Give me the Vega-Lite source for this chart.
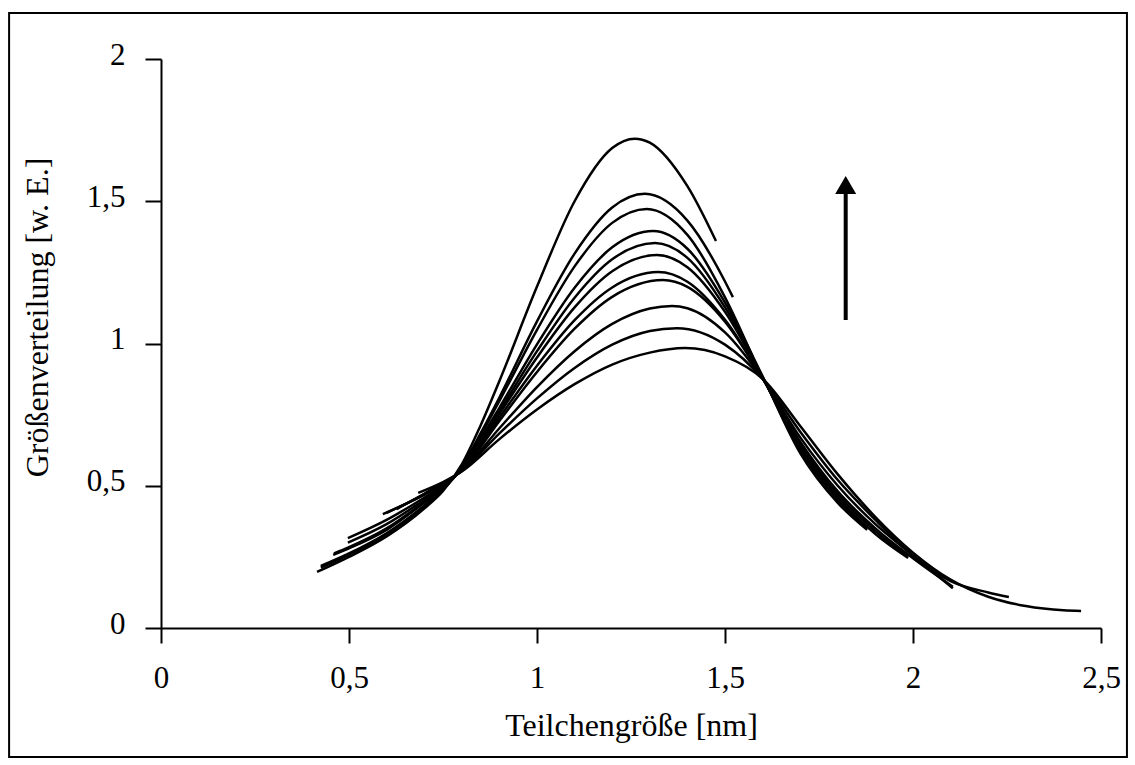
{
  "$schema": "https://vega.github.io/schema/vega-lite/v6.json",
  "width": 940,
  "height": 569,
  "autosize": "none",
  "padding": {"left": 161, "top": 59, "right": 34, "bottom": 137},
  "background": "white",
  "config": {
    "view": {"stroke": null},
    "font": "Liberation Serif",
    "axis": {
      "grid": false,
      "domainColor": "black",
      "domainWidth": 2,
      "tickColor": "black",
      "tickWidth": 2,
      "tickSize": 15,
      "labelColor": "black",
      "labelFont": "Liberation Serif",
      "labelFontSize": 31,
      "labelPadding": 20,
      "titleColor": "black",
      "titleFont": "Liberation Serif",
      "titleFontSize": 32,
      "titleFontWeight": "normal"
    }
  },
  "datasets": {
    "frame": [{"x1": -0.404, "x2": 2.569, "y1": -0.453, "y2": 2.162}],
    "arrow": [{"x": 1.821, "y1": 1.083, "y2": 1.535, "tip": 1.557}],
    "curves": [
      {"c": 1, "x": 0.415, "y": 0.197}, {"c": 1, "x": 0.5, "y": 0.25}, {"c": 1, "x": 0.6, "y": 0.322}, {"c": 1, "x": 0.7, "y": 0.42}, {"c": 1, "x": 0.75, "y": 0.482}, {"c": 1, "x": 0.8, "y": 0.575}, {"c": 1, "x": 0.85, "y": 0.712}, {"c": 1, "x": 0.9, "y": 0.868}, {"c": 1, "x": 1.0, "y": 1.2}, {"c": 1, "x": 1.1, "y": 1.5}, {"c": 1, "x": 1.2, "y": 1.687}, {"c": 1, "x": 1.26, "y": 1.72}, {"c": 1, "x": 1.3, "y": 1.706}, {"c": 1, "x": 1.4, "y": 1.553}, {"c": 1, "x": 1.476, "y": 1.36},
      {"c": 2, "x": 0.425, "y": 0.218}, {"c": 2, "x": 0.5, "y": 0.262}, {"c": 2, "x": 0.6, "y": 0.333}, {"c": 2, "x": 0.7, "y": 0.43}, {"c": 2, "x": 0.75, "y": 0.487}, {"c": 2, "x": 0.8, "y": 0.568}, {"c": 2, "x": 0.85, "y": 0.684}, {"c": 2, "x": 0.9, "y": 0.81}, {"c": 2, "x": 1.0, "y": 1.078}, {"c": 2, "x": 1.1, "y": 1.316}, {"c": 2, "x": 1.2, "y": 1.478}, {"c": 2, "x": 1.287, "y": 1.526}, {"c": 2, "x": 1.4, "y": 1.432}, {"c": 2, "x": 1.5, "y": 1.218}, {"c": 2, "x": 1.521, "y": 1.163},
      {"c": 3, "x": 0.425, "y": 0.212}, {"c": 3, "x": 0.5, "y": 0.258}, {"c": 3, "x": 0.6, "y": 0.33}, {"c": 3, "x": 0.7, "y": 0.428}, {"c": 3, "x": 0.75, "y": 0.486}, {"c": 3, "x": 0.8, "y": 0.565}, {"c": 3, "x": 0.85, "y": 0.677}, {"c": 3, "x": 0.9, "y": 0.798}, {"c": 3, "x": 1.0, "y": 1.048}, {"c": 3, "x": 1.1, "y": 1.271}, {"c": 3, "x": 1.2, "y": 1.424}, {"c": 3, "x": 1.292, "y": 1.473}, {"c": 3, "x": 1.4, "y": 1.382}, {"c": 3, "x": 1.5, "y": 1.162}, {"c": 3, "x": 1.574, "y": 0.952},
      {"c": 4, "x": 0.458, "y": 0.257}, {"c": 4, "x": 0.5, "y": 0.28}, {"c": 4, "x": 0.6, "y": 0.345}, {"c": 4, "x": 0.7, "y": 0.44}, {"c": 4, "x": 0.75, "y": 0.49}, {"c": 4, "x": 0.8, "y": 0.562}, {"c": 4, "x": 0.85, "y": 0.665}, {"c": 4, "x": 0.9, "y": 0.774}, {"c": 4, "x": 1.0, "y": 0.997}, {"c": 4, "x": 1.1, "y": 1.196}, {"c": 4, "x": 1.2, "y": 1.338}, {"c": 4, "x": 1.309, "y": 1.395}, {"c": 4, "x": 1.4, "y": 1.333}, {"c": 4, "x": 1.5, "y": 1.144}, {"c": 4, "x": 1.6, "y": 0.885}, {"c": 4, "x": 1.7, "y": 0.615}, {"c": 4, "x": 1.8, "y": 0.44}, {"c": 4, "x": 1.878, "y": 0.345},
      {"c": 5, "x": 0.46, "y": 0.262}, {"c": 5, "x": 0.5, "y": 0.284}, {"c": 5, "x": 0.6, "y": 0.35}, {"c": 5, "x": 0.7, "y": 0.443}, {"c": 5, "x": 0.75, "y": 0.492}, {"c": 5, "x": 0.8, "y": 0.56}, {"c": 5, "x": 0.9, "y": 0.763}, {"c": 5, "x": 1.0, "y": 0.973}, {"c": 5, "x": 1.1, "y": 1.161}, {"c": 5, "x": 1.2, "y": 1.296}, {"c": 5, "x": 1.314, "y": 1.353}, {"c": 5, "x": 1.4, "y": 1.301}, {"c": 5, "x": 1.5, "y": 1.127}, {"c": 5, "x": 1.6, "y": 0.882}, {"c": 5, "x": 1.7, "y": 0.625}, {"c": 5, "x": 1.8, "y": 0.45}, {"c": 5, "x": 1.878, "y": 0.35},
      {"c": 6, "x": 0.497, "y": 0.3}, {"c": 6, "x": 0.6, "y": 0.365}, {"c": 6, "x": 0.7, "y": 0.45}, {"c": 6, "x": 0.75, "y": 0.495}, {"c": 6, "x": 0.8, "y": 0.558}, {"c": 6, "x": 0.9, "y": 0.753}, {"c": 6, "x": 1.0, "y": 0.951}, {"c": 6, "x": 1.1, "y": 1.127}, {"c": 6, "x": 1.2, "y": 1.254}, {"c": 6, "x": 1.319, "y": 1.311}, {"c": 6, "x": 1.4, "y": 1.268}, {"c": 6, "x": 1.5, "y": 1.111}, {"c": 6, "x": 1.6, "y": 0.88}, {"c": 6, "x": 1.7, "y": 0.635}, {"c": 6, "x": 1.8, "y": 0.46}, {"c": 6, "x": 1.9, "y": 0.33}, {"c": 6, "x": 1.987, "y": 0.246},
      {"c": 7, "x": 0.497, "y": 0.316}, {"c": 7, "x": 0.6, "y": 0.38}, {"c": 7, "x": 0.7, "y": 0.458}, {"c": 7, "x": 0.75, "y": 0.5}, {"c": 7, "x": 0.8, "y": 0.557}, {"c": 7, "x": 0.9, "y": 0.74}, {"c": 7, "x": 1.0, "y": 0.922}, {"c": 7, "x": 1.1, "y": 1.082}, {"c": 7, "x": 1.2, "y": 1.197}, {"c": 7, "x": 1.322, "y": 1.251}, {"c": 7, "x": 1.4, "y": 1.217}, {"c": 7, "x": 1.5, "y": 1.083}, {"c": 7, "x": 1.6, "y": 0.878}, {"c": 7, "x": 1.7, "y": 0.645}, {"c": 7, "x": 1.8, "y": 0.47}, {"c": 7, "x": 1.9, "y": 0.34}, {"c": 7, "x": 1.987, "y": 0.25},
      {"c": 8, "x": 0.59, "y": 0.4}, {"c": 8, "x": 0.7, "y": 0.468}, {"c": 8, "x": 0.75, "y": 0.505}, {"c": 8, "x": 0.8, "y": 0.555}, {"c": 8, "x": 0.9, "y": 0.728}, {"c": 8, "x": 1.0, "y": 0.9}, {"c": 8, "x": 1.1, "y": 1.052}, {"c": 8, "x": 1.2, "y": 1.164}, {"c": 8, "x": 1.335, "y": 1.223}, {"c": 8, "x": 1.4, "y": 1.199}, {"c": 8, "x": 1.5, "y": 1.077}, {"c": 8, "x": 1.6, "y": 0.878}, {"c": 8, "x": 1.7, "y": 0.655}, {"c": 8, "x": 1.8, "y": 0.48}, {"c": 8, "x": 1.9, "y": 0.35}, {"c": 8, "x": 2.0, "y": 0.245}, {"c": 8, "x": 2.106, "y": 0.145},
      {"c": 9, "x": 0.6, "y": 0.405}, {"c": 9, "x": 0.7, "y": 0.47}, {"c": 9, "x": 0.75, "y": 0.508}, {"c": 9, "x": 0.8, "y": 0.553}, {"c": 9, "x": 0.9, "y": 0.702}, {"c": 9, "x": 1.0, "y": 0.847}, {"c": 9, "x": 1.1, "y": 0.973}, {"c": 9, "x": 1.2, "y": 1.069}, {"c": 9, "x": 1.3, "y": 1.123}, {"c": 9, "x": 1.359, "y": 1.132}, {"c": 9, "x": 1.4, "y": 1.124}, {"c": 9, "x": 1.5, "y": 1.039}, {"c": 9, "x": 1.6, "y": 0.876}, {"c": 9, "x": 1.7, "y": 0.67}, {"c": 9, "x": 1.8, "y": 0.5}, {"c": 9, "x": 1.9, "y": 0.365}, {"c": 9, "x": 2.0, "y": 0.255}, {"c": 9, "x": 2.106, "y": 0.14},
      {"c": 10, "x": 0.627, "y": 0.418}, {"c": 10, "x": 0.7, "y": 0.472}, {"c": 10, "x": 0.75, "y": 0.51}, {"c": 10, "x": 0.8, "y": 0.552}, {"c": 10, "x": 0.9, "y": 0.684}, {"c": 10, "x": 1.0, "y": 0.807}, {"c": 10, "x": 1.1, "y": 0.914}, {"c": 10, "x": 1.2, "y": 0.996}, {"c": 10, "x": 1.3, "y": 1.044}, {"c": 10, "x": 1.372, "y": 1.054}, {"c": 10, "x": 1.5, "y": 0.996}, {"c": 10, "x": 1.6, "y": 0.876}, {"c": 10, "x": 1.7, "y": 0.69}, {"c": 10, "x": 1.8, "y": 0.52}, {"c": 10, "x": 1.9, "y": 0.38}, {"c": 10, "x": 2.0, "y": 0.255}, {"c": 10, "x": 2.1, "y": 0.165}, {"c": 10, "x": 2.2, "y": 0.125}, {"c": 10, "x": 2.255, "y": 0.109},
      {"c": 11, "x": 0.684, "y": 0.475}, {"c": 11, "x": 0.75, "y": 0.513}, {"c": 11, "x": 0.8, "y": 0.55}, {"c": 11, "x": 0.9, "y": 0.664}, {"c": 11, "x": 1.0, "y": 0.768}, {"c": 11, "x": 1.1, "y": 0.857}, {"c": 11, "x": 1.2, "y": 0.926}, {"c": 11, "x": 1.3, "y": 0.968}, {"c": 11, "x": 1.394, "y": 0.984}, {"c": 11, "x": 1.5, "y": 0.955}, {"c": 11, "x": 1.6, "y": 0.876}, {"c": 11, "x": 1.7, "y": 0.71}, {"c": 11, "x": 1.8, "y": 0.54}, {"c": 11, "x": 1.9, "y": 0.39}, {"c": 11, "x": 2.0, "y": 0.265}, {"c": 11, "x": 2.1, "y": 0.17}, {"c": 11, "x": 2.2, "y": 0.11}, {"c": 11, "x": 2.3, "y": 0.077}, {"c": 11, "x": 2.4, "y": 0.062}, {"c": 11, "x": 2.447, "y": 0.06}
    ]
  },
  "layer": [
    {
      "data": {"name": "curves"},
      "mark": {"type": "line", "interpolate": "monotone", "color": "black", "strokeWidth": 2.5},
      "encoding": {
        "x": {
          "field": "x", "type": "quantitative",
          "title": "Teilchengröße [nm]",
          "scale": {"domain": [0, 2.5]},
          "axis": {
            "values": [0, 0.5, 1, 1.5, 2, 2.5],
            "labelExpr": "replace(format(datum.value, '~g'), '.', ',')",
            "titleBaseline": "alphabetic",
            "titleY": 107,
            "labelFlush": false
          }
        },
        "y": {
          "field": "y", "type": "quantitative",
          "title": "Größenverteilung [w. E.]",
          "scale": {"domain": [0, 2]},
          "axis": {
            "values": [0, 0.5, 1, 1.5, 2],
            "labelExpr": "replace(format(datum.value, '~g'), '.', ',')",
            "tickSize": 16,
            "labelOffset": -4,
            "titleAngle": 270,
            "titleBaseline": "middle",
            "titleAlign": "center",
            "titleX": -124,
            "titleY": 258,
            "labelFlush": false
          }
        },
        "detail": {"field": "c", "type": "nominal"}
      }
    },
    {
      "data": {"name": "frame"},
      "mark": {"type": "rect", "fillOpacity": 0, "stroke": "black", "strokeWidth": 2},
      "encoding": {
        "x": {"field": "x1", "type": "quantitative", "title": "Teilchengröße [nm]", "scale": {"domain": [0, 2.5]}},
        "x2": {"field": "x2"},
        "y": {"field": "y1", "type": "quantitative", "title": "Größenverteilung [w. E.]", "scale": {"domain": [0, 2]}},
        "y2": {"field": "y2"}
      }
    },
    {
      "data": {"name": "arrow"},
      "mark": {"type": "rule", "color": "black", "strokeWidth": 4},
      "encoding": {
        "x": {"field": "x", "type": "quantitative", "title": "Teilchengröße [nm]", "scale": {"domain": [0, 2.5]}},
        "y": {"field": "y1", "type": "quantitative", "title": "Größenverteilung [w. E.]", "scale": {"domain": [0, 2]}},
        "y2": {"field": "y2"}
      }
    },
    {
      "data": {"name": "arrow"},
      "mark": {"type": "point", "shape": "triangle-up", "filled": true, "color": "black", "opacity": 1, "size": 440},
      "encoding": {
        "x": {"field": "x", "type": "quantitative", "title": "Teilchengröße [nm]", "scale": {"domain": [0, 2.5]}},
        "y": {"field": "tip", "type": "quantitative", "title": "Größenverteilung [w. E.]", "scale": {"domain": [0, 2]}}
      }
    }
  ]
}
